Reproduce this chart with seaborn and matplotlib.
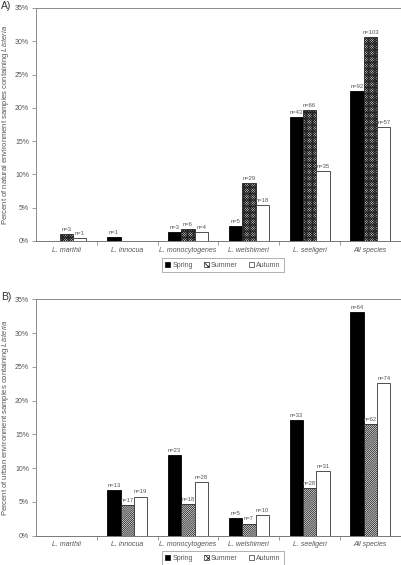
import matplotlib
matplotlib.use("Agg")
import matplotlib.pyplot as plt
import seaborn as sns
import pandas as pd
from matplotlib.patches import Patch
from matplotlib.ticker import FuncFormatter, FixedLocator

sns.set_theme(style="white")
plt.rcParams['font.family'] = ['Liberation Sans', 'DejaVu Sans']
plt.rcParams['mathtext.fontset'] = 'custom'
plt.rcParams['mathtext.it'] = 'Liberation Sans:italic'
plt.rcParams['mathtext.rm'] = 'Liberation Sans'

categories = ["L. marthii", "L. innocua", "L. monocytogenes", "L. welshimeri", "L. seeligeri", "All species"]
seasons = ["Spring", "Summer", "Autumn"]

# Panel A: natural environment (fraction of samples)
natural_spring = [0.0, 0.0055, 0.014, 0.022, 0.186, 0.225]
natural_summer = [0.010, 0.0, 0.018, 0.087, 0.197, 0.306]
natural_autumn = [0.004, 0.0, 0.013, 0.054, 0.105, 0.171]
natural_n_spring = ["", "n=1", "n=3", "n=5", "n=43", "n=92"]
natural_n_summer = ["n=3", "", "n=6", "n=29", "n=66", "n=103"]
natural_n_autumn = ["n=1", "", "n=4", "n=18", "n=35", "n=57"]

# Panel B: urban environment
urban_spring = [0.0, 0.068, 0.119, 0.026, 0.171, 0.331]
urban_summer = [0.0, 0.046, 0.047, 0.018, 0.070, 0.165]
urban_autumn = [0.0, 0.058, 0.080, 0.031, 0.096, 0.226]
urban_n_spring = ["", "n=13", "n=23", "n=5", "n=33", "n=64"]
urban_n_summer = ["", "n=17", "n=18", "n=7", "n=28", "n=62"]
urban_n_autumn = ["", "n=19", "n=28", "n=10", "n=31", "n=74"]

yticks = [0, 0.05, 0.10, 0.15, 0.20, 0.25, 0.30, 0.35]

fig = plt.figure(figsize=(4.02, 5.65), dpi=100)
axA = fig.add_axes([0.0896, 0.5735, 0.9075, 0.4124])
axB = fig.add_axes([0.0896, 0.0519, 0.9075, 0.4184])

grey = "#8c8c8c"
txtgrey = "#555555"


def panel(ax, spring, summer, autumn, nsp, nsu, nau, ylabel, letter, hatch, leg_y):
    rows = []
    for vals, s in zip([spring, summer, autumn], seasons):
        for c, v in zip(categories, vals):
            rows.append({"category": c, "season": s, "value": v})
    df = pd.DataFrame(rows)
    sns.barplot(data=df, x="category", y="value", hue="season", order=categories,
                hue_order=seasons, palette=["black", "white", "white"], width=0.66,
                gap=0, ax=ax, legend=False, errorbar=None, saturation=1)
    labels_all = [nsp, nsu, nau]
    for i, cont in enumerate(ax.containers):
        for bar in cont:
            h = bar.get_height()
            if i == 0:
                bar.set_edgecolor("black")
            elif i == 1:
                bar.set_hatch(hatch)
                bar.set_edgecolor("#222222")
            else:
                bar.set_edgecolor("#333333")
            bar.set_linewidth(0.6)
            if h == 0:
                bar.set_visible(False)
        ax.bar_label(cont, labels=labels_all[i], fontsize=4.2, color=txtgrey, padding=1.5)
    ax.set_ylim(0, 0.35)
    ax.set_xlim(-0.5, 5.5)
    ax.set_yticks(yticks)
    ax.yaxis.set_major_formatter(FuncFormatter(lambda v, p: f"{v*100:.0f}%"))
    ax.tick_params(axis="y", labelsize=5, colors=grey, labelcolor=txtgrey, length=3, width=0.6, direction="out", left=True, pad=2)
    ax.set_xticks(range(6))
    ax.set_xticklabels(categories, fontstyle="italic", fontsize=5, color=txtgrey)
    ax.tick_params(axis="x", length=0, pad=4)
    ax.xaxis.set_minor_locator(FixedLocator([0.5, 1.5, 2.5, 3.5, 4.5]))
    ax.tick_params(axis="x", which="minor", length=3, width=0.6, color=grey, bottom=True, direction="out")
    ax.set_xlabel("")
    ax.set_ylabel(ylabel, fontsize=5.5, color=txtgrey, labelpad=3)
    for sp in ax.spines.values():
        sp.set_color(grey)
        sp.set_linewidth(0.7)
    ax.spines["bottom"].set_color("#777777")
    handles = [Patch(facecolor="black", edgecolor="black", linewidth=0.5),
               Patch(facecolor="white", edgecolor="#222222", hatch="xxxx", linewidth=0.5),
               Patch(facecolor="white", edgecolor="#333333", linewidth=0.5)]
    leg = ax.legend(handles, seasons, ncol=3, loc="center", bbox_to_anchor=(0.512, leg_y),
                    fontsize=5, frameon=True, fancybox=False, handlelength=0.7,
                    handleheight=0.7, handletextpad=0.3, columnspacing=1.6,
                    borderpad=0.5, labelcolor=txtgrey)
    leg.get_frame().set_edgecolor(grey)
    leg.get_frame().set_linewidth(0.6)
    fig.text(0.002, ax.get_position().y1 + 0.004, letter, fontsize=7.5, color="#333333", va="center", ha="left")


plt.rcParams['hatch.linewidth'] = 0.6
panel(axA, natural_spring, natural_summer, natural_autumn,
      natural_n_spring, natural_n_summer, natural_n_autumn,
      r"Percent of natural environment samples containing $\it{Listeria}$", "A)", "x" * 14, -0.105)
panel(axB, urban_spring, urban_summer, urban_autumn,
      urban_n_spring, urban_n_summer, urban_n_autumn,
      r"Percent of urban environment samples containing $\it{Listeria}$", "B)", "/" * 16, -0.095)

fig.savefig("out.png", dpi=100)
